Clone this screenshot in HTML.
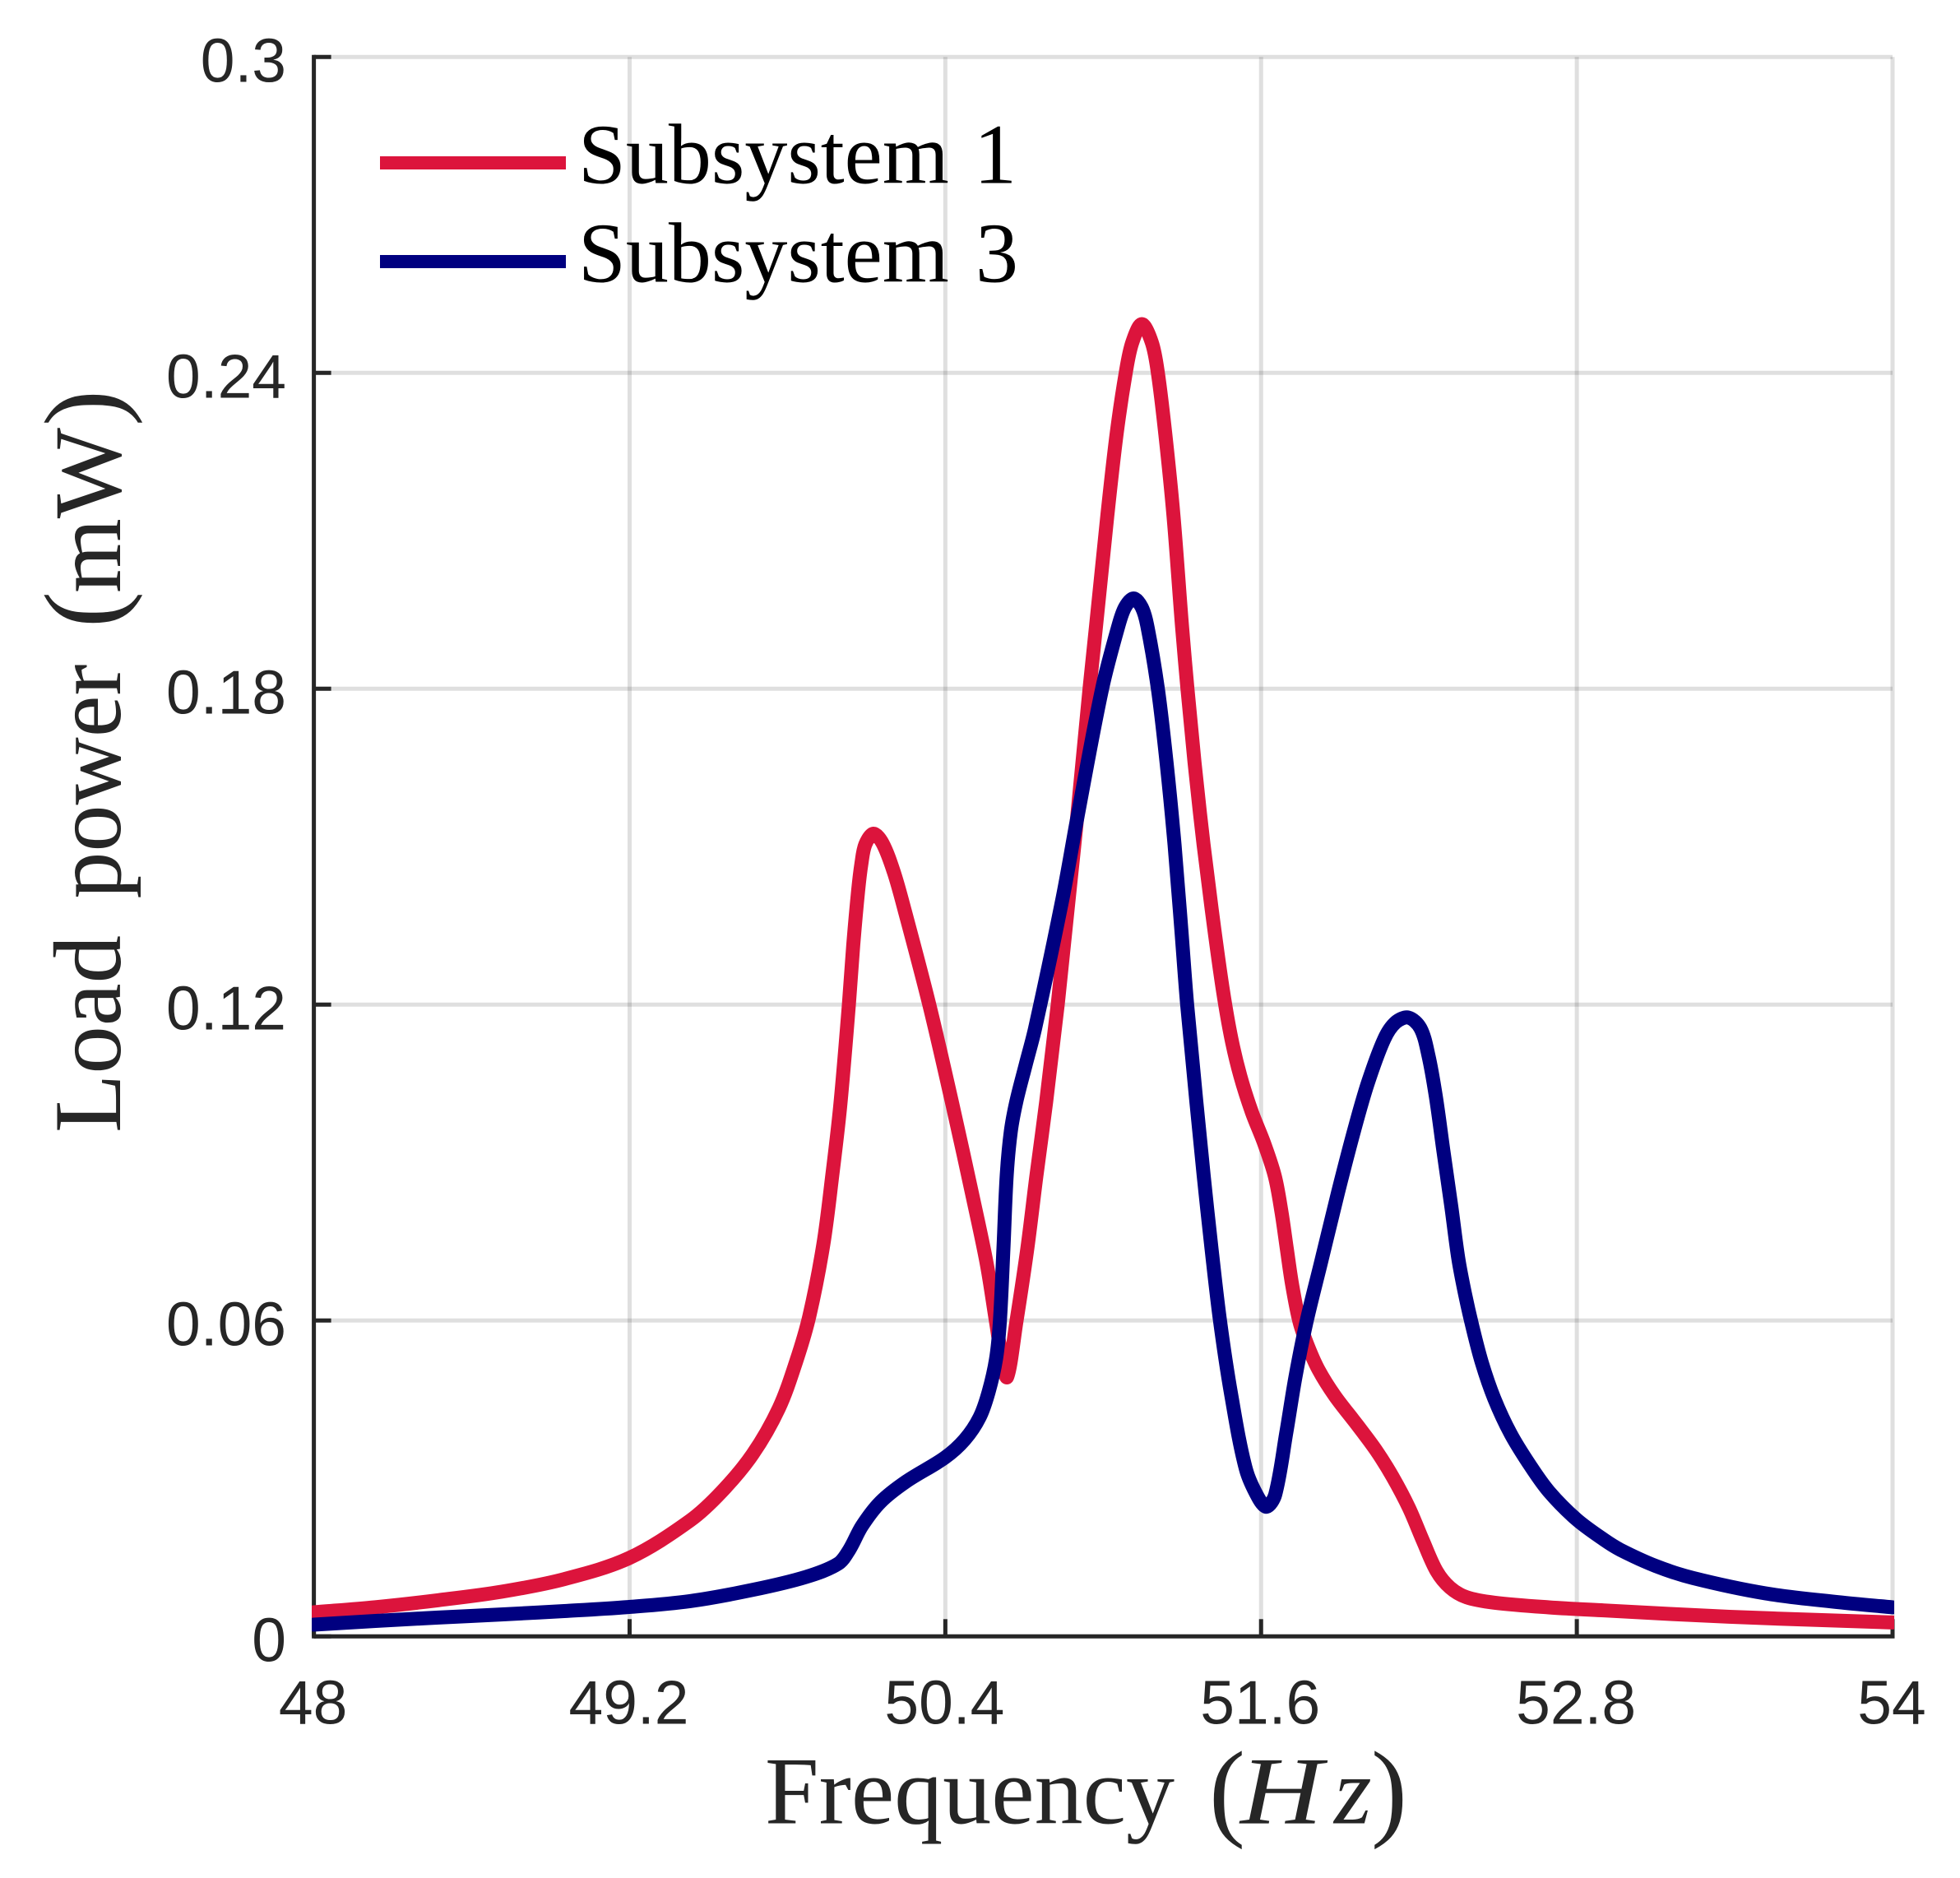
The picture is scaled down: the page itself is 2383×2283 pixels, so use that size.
<!DOCTYPE html>
<html>
<head>
<meta charset="utf-8">
<title>Load power vs frequency</title>
<style>
html,body{margin:0;padding:0;background:#fff;}
svg{display:block;}
.tick{font-family:"Liberation Sans",sans-serif;font-size:75px;fill:#262626;}
.lab{font-family:"Liberation Serif",serif;font-size:117px;fill:#262626;}
.par{font-family:"Liberation Serif",serif;font-size:132px;fill:#262626;}
.leg{font-family:"Liberation Serif",serif;font-size:104px;fill:#000;}
</style>
</head>
<body>
<svg id="chart" xmlns="http://www.w3.org/2000/svg" width="2383" height="2283" viewBox="0 0 2383 2283">
  <defs><clipPath id="plot-clip"><rect x="379" y="60" width="1924" height="1932"/></clipPath></defs>
  <rect x="0" y="0" width="2383" height="2283" fill="#fff"/>
  <g id="grid"></g>
  <g id="axes"></g>
  <g id="series" clip-path="url(#plot-clip)"></g>
  <g id="ticklabels"></g>

  <g>
    <line x1="462" x2="688" y1="198" y2="198" stroke="#DC143C" stroke-width="16"/>
    <text class="leg" y="222.5"><tspan x="703">Subsystem</tspan><tspan x="1184">1</tspan></text>
    <line x1="462" x2="688" y1="318" y2="318" stroke="#000080" stroke-width="16"/>
    <text class="leg" y="342.5"><tspan x="703">Subsystem</tspan><tspan x="1186">3</tspan></text>
  </g>

  <g>
    <text class="lab" x="930" y="2216.6" textLength="498" lengthAdjust="spacingAndGlyphs">Frequency</text>
    <text class="par" x="1470" y="2220">(</text>
    <text class="lab" x="1508" y="2216.6" style="font-style:italic" textLength="100" lengthAdjust="spacingAndGlyphs">H</text>
    <text class="lab" x="1622" y="2216.6" style="font-style:italic">z</text>
    <text class="par" x="1667" y="2220">)</text>
  </g>

  <g>
    <text class="lab" transform="translate(146 1377) rotate(-90)" x="0" y="0" textLength="240" lengthAdjust="spacingAndGlyphs">Load</text>
    <text class="lab" transform="translate(146 1092.5) rotate(-90)" x="0" y="0" textLength="285" lengthAdjust="spacingAndGlyphs">power</text>
    <text class="par" transform="translate(145 763) rotate(-90)" x="0" y="0">(</text>
    <text class="lab" transform="translate(146 721) rotate(-90)" x="0" y="0" textLength="201" lengthAdjust="spacingAndGlyphs">mW</text>
    <text class="par" transform="translate(145 518) rotate(-90)" x="0" y="0">)</text>
  </g>
</svg>
<script>
// Tick labels
const xTicks = [48, 49.2, 50.4, 51.6, 52.8, 54];
const xTickLabels = ["48", "49.2", "50.4", "51.6", "52.8", "54"];
const yTicks = [0, 0.06, 0.12, 0.18, 0.24, 0.3];
const yTickLabels = ["0", "0.06", "0.12", "0.18", "0.24", "0.3"];

// Subsystem 1 (frequency in Hz, load power in mW)
const subsystem1Freq = [48.0000,48.2341,48.4733,48.7127,48.9516,49.1985,49.4298,49.5502,49.6674,49.7674,49.8331,49.8831,49.9362,49.9706,50.0003,50.0332,50.0497,50.0685,50.0810,50.0957,50.1269,50.1613,50.2041,50.2457,50.3395,50.4286,50.5164,50.5583,50.5927,50.6146,50.6349,50.6699,50.7115,50.7459,50.7834,50.8272,50.8687,50.9012,50.9481,50.9731,51.0157,51.0513,51.0857,51.1101,51.1469,51.1851,51.2076,51.2357,51.2670,51.2992,51.3201,51.3470,51.3814,51.4211,51.4555,51.4867,51.5211,51.5649,51.6118,51.6524,51.6774,51.6978,51.7181,51.7462,51.7775,51.8181,51.8806,51.9650,52.0369,52.0994,52.1620,52.2151,52.2673,52.3183,52.3808,52.4861,52.6934,52.9028,53.3795,54.0000];
const subsystem1Power = [.00458,.00555,.00688,.00848,.01088,.01489,.02200,.02750,.03458,.04333,.05223,.06083,.07442,.08770,.10067,.11989,.13114,.14161,.14677,.15041,.15247,.15067,.14520,.13786,.11989,.10067,.08067,.07052,.05973,.05302,.04927,.05973,.07364,.08739,.10161,.12005,.14005,.15567,.18005,.19208,.21291,.22853,.24005,.24572,.24927,.24572,.24005,.22853,.21291,.19208,.18005,.16603,.15041,.13478,.12255,.11364,.10645,.09958,.09364,.08739,.08067,.07364,.06677,.05973,.05520,.05067,.04567,.04020,.03536,.03036,.02442,.01817,.01239,.00927,.00744,.00641,.00552,.00494,.00373,.00264];

// Subsystem 3 (frequency in Hz, load power in mW)
const subsystem3Freq = [48.0000,48.2341,48.4733,48.7127,48.9516,49.1985,49.4298,49.6699,49.8706,49.9925,50.0350,50.0832,50.1535,50.2513,50.3980,50.4739,50.5302,50.5646,50.5927,50.6071,50.6208,50.6333,50.6490,50.6699,50.7052,50.7412,50.8450,50.9022,50.9960,51.0585,51.0835,51.1157,51.1460,51.1670,51.2076,51.2407,51.2711,51.2961,51.3189,51.3539,51.3817,51.4117,51.4445,51.4867,51.5421,51.5899,51.6212,51.6537,51.6962,51.7306,51.7725,51.8275,51.8922,51.9547,52.0057,52.0682,52.1110,52.1598,52.2057,52.2360,52.2642,52.2933,52.3230,52.3496,52.3745,52.4027,52.4392,52.4861,52.5486,52.6215,52.6934,52.7987,52.9028,52.9654,53.1000,53.2405,53.5174,53.7939,54.0000];
const subsystem3Power = [.00223,.00294,.00358,.00417,.00481,.00559,.00670,.00886,.01130,.01380,.01645,.02098,.02552,.02942,.03395,.03739,.04161,.04645,.05270,.05973,.07364,.08761,.09598,.10161,.10855,.11552,.14005,.15567,.18005,.19208,.19552,.19716,.19552,.19208,.18005,.16603,.15041,.13478,.12005,.10161,.08761,.07364,.05973,.04583,.03181,.02630,.02463,.02692,.03880,.04927,.05973,.07098,.08427,.09630,.10509,.11348,.11661,.11755,.11552,.11036,.10255,.09208,.08166,.07177,.06520,.05895,.05197,.04520,.03848,.03255,.02755,.02223,.01838,.01645,.01338,.01110,.00817,.00650,.00552];

const SVGNS = "http://www.w3.org/2000/svg";
const plotLeft = 381.6, plotRight = 2301, plotTop = 69.3, plotBottom = 1989.3;
const xMin = 48, xMax = 54, yMin = 0, yMax = 0.3;
function xScale(v){ return plotLeft + (v - xMin) / (xMax - xMin) * (plotRight - plotLeft); }
function yScale(v){ return plotBottom - (v - yMin) / (yMax - yMin) * (plotBottom - plotTop); }

function mk(tag, parent, attrs){
  const el = document.createElementNS(SVGNS, tag);
  for (const k in attrs) el.setAttribute(k, attrs[k]);
  parent.appendChild(el);
  return el;
}

// Smooth path through the data points (chord-length Catmull-Rom)
function curvePath(xs, ys){
  const p = xs.map((x, i) => [xScale(x), yScale(ys[i])]);
  const dist = (a, b) => Math.hypot(a[0] - b[0], a[1] - b[1]) || 1e-6;
  const tan = p.map((pt, i) => {
    const a = p[Math.max(i - 1, 0)], b = p[Math.min(i + 1, p.length - 1)];
    const d = dist(a, pt) * (i > 0 ? 1 : 0) + dist(pt, b) * (i < p.length - 1 ? 1 : 0);
    return [(b[0] - a[0]) / d, (b[1] - a[1]) / d];
  });
  let s = "M" + p[0][0].toFixed(2) + " " + p[0][1].toFixed(2);
  for (let i = 0; i < p.length - 1; i++){
    const d = dist(p[i], p[i + 1]) / 3;
    s += "C" + (p[i][0] + tan[i][0] * d).toFixed(2) + " " + (p[i][1] + tan[i][1] * d).toFixed(2) + " " +
         (p[i + 1][0] - tan[i + 1][0] * d).toFixed(2) + " " + (p[i + 1][1] - tan[i + 1][1] * d).toFixed(2) + " " +
         p[i + 1][0].toFixed(2) + " " + p[i + 1][1].toFixed(2);
  }
  return s;
}

const gridG = document.getElementById("grid");
const axesG = document.getElementById("axes");
const seriesG = document.getElementById("series");
const labelG = document.getElementById("ticklabels");

xTicks.forEach((t, i) => {
  const gl = mk("line", gridG, {x1: xScale(t), x2: xScale(t), y1: plotTop, y2: plotBottom, stroke: "#262626", "stroke-opacity": 0.15, "stroke-width": 5});
  
  
  const tk = mk("line", axesG, {x1: xScale(t), x2: xScale(t), y1: plotBottom, y2: plotBottom - 21, stroke: "#262626", "stroke-width": 5});
  
  
  const lb = mk("text", labelG, {x: xScale(t) - 1, y: 2095.5, "text-anchor": "middle", class: "tick"});
  lb.textContent = xTickLabels[i];
  
  
});

yTicks.forEach((t, i) => {
  const gl = mk("line", gridG, {x1: plotLeft, x2: plotRight, y1: yScale(t), y2: yScale(t), stroke: "#262626", "stroke-opacity": 0.15, "stroke-width": 5});
  
  
  const tk = mk("line", axesG, {x1: plotLeft, x2: plotLeft + 21, y1: yScale(t), y2: yScale(t), stroke: "#262626", "stroke-width": 5});
  
  
  const lb = mk("text", labelG, {x: 348, y: yScale(t) + 30, "text-anchor": "end", class: "tick"});
  lb.textContent = yTickLabels[i];
  
  
});

const yAxisLine = mk("line", axesG, {x1: plotLeft, x2: plotLeft, y1: plotTop - 2.5, y2: plotBottom + 2.5, stroke: "#262626", "stroke-width": 5});


const xAxisLine = mk("line", axesG, {x1: plotLeft, x2: plotRight + 2.5, y1: plotBottom, y2: plotBottom, stroke: "#262626", "stroke-width": 5});



const line1 = mk("path", seriesG, {d: curvePath(subsystem1Freq, subsystem1Power), fill: "none", stroke: "#DC143C", "stroke-width": 17, "stroke-linejoin": "round", "stroke-linecap": "round"});


const line3 = mk("path", seriesG, {d: curvePath(subsystem3Freq, subsystem3Power), fill: "none", stroke: "#000080", "stroke-width": 17, "stroke-linejoin": "round", "stroke-linecap": "round"});


</script>
</body>
</html>
